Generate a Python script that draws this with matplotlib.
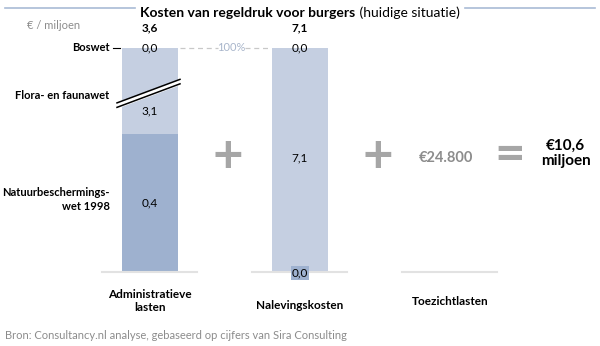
import matplotlib
matplotlib.use("Agg")
from matplotlib import pyplot as plt
import numpy as np

plt.rcParams['font.family'] = ['Lato', 'DejaVu Sans']

# data
categories = ['Administratieve\nlasten', 'Nalevingskosten', 'Toezichtlasten']
totals = ['3,6', '7,1', None]
# administrative burden per law (€ mln), top to bottom
admin_laws = ['Boswet', 'Flora- en faunawet', 'Natuurbeschermings-\nwet 1998']
admin_values = ['0,0', '3,1', '0,4']
# compliance costs segments, top to bottom
naleving_values = ['0,0', '7,1', '0,0']
toezicht_value = '€24.800'
total_value = '€10,6\nmiljoen'
# bar segments are drawn as 100% bars with an axis break, so the shares are the drawn proportions
admin_shown = [0.0, 0.384, 0.616]     # Boswet, Flora (compressed), Natuurbeschermingswet
naleving_shown = [0.0, 1.0, 0.0]

light = '#C5CFE1'
dark = '#9EB1CF'
grey_txt = '#8C8C8C'
fs = 8.5
fs_side = 8

fig = plt.figure(figsize=(6, 3.46), dpi=100)
ax = fig.add_axes([0, 0, 1, 1])
ax.set_xlim(-1, 3)
ax.set_ylim(-74 / 224, 272 / 224)
ax.axis('off')

bw = 0.37
# admin bar (stack from bottom)
seg_cols = [light, light, dark]
bottom = 0
for h, c in zip(admin_shown[::-1], seg_cols[::-1]):
    ax.bar(0, h, bw, bottom=bottom, color=c, edgecolor='none')
    bottom += h
bottom = 0
for h in naleving_shown[::-1]:
    ax.bar(1, h, bw, bottom=bottom, color=light, edgecolor='none')
    bottom += h

# baselines
for x in range(3):
    ax.plot([x - 0.32, x + 0.31], [0, 0], color='#E2E2E2', lw=1.5, zorder=1)

# break lines on admin bar
bx = np.array([-0.22, 0.2])
by = np.array([0.755, 0.86])
ax.fill_between(bx, by - 0.02, by, color='white', zorder=3)
ax.plot(bx, by, color='black', lw=1.1, zorder=4)
ax.plot(bx, by - 0.02, color='black', lw=1.1, zorder=4)

# dashed 100% line
ax.plot([0.2, 0.45], [1, 1], color='#C8C8C8', lw=0.9, ls=(0, (4, 3)))
ax.plot([0.63, 0.8], [1, 1], color='#C8C8C8', lw=0.9, ls=(0, (4, 3)))
ax.text(0.54, 1.0, '100%', ha='center', va='center', fontsize=8, color='#A9B6CB')

# totals
for x, t in enumerate(totals):
    if t:
        ax.text(x, 1.065, t, ha='center', va='bottom', fontsize=fs, fontweight='bold')

# admin labels
ax.text(0, 1.0, admin_values[0], ha='center', va='center', fontsize=fs)
ax.text(0, 0.72, admin_values[1], ha='center', va='center', fontsize=fs)
ax.text(0, admin_shown[2] / 2, admin_values[2], ha='center', va='center', fontsize=fs)
ax.text(-0.27, 1.0, admin_laws[0], ha='right', va='center', fontsize=fs_side, fontweight='bold')
ax.plot([-0.25, -0.2], [1.0, 1.0], color='black', lw=0.8)
ax.text(-0.27, 0.79, admin_laws[1], ha='right', va='center', fontsize=fs_side, fontweight='bold')
ax.text(-0.27, 0.325, admin_laws[2], ha='right', va='center', fontsize=fs_side,
        fontweight='bold', linespacing=1.3, multialignment='right')

# naleving labels
ax.text(1, 1.0, naleving_values[0], ha='center', va='center', fontsize=fs)
ax.text(1, 0.51, naleving_values[1], ha='center', va='center', fontsize=fs)
ax.text(1, -0.005, naleving_values[2], ha='center', va='center', fontsize=fs,
        bbox=dict(boxstyle='square,pad=0.1', fc=dark, ec='none'))

# category labels
for x, c in enumerate(categories):
    y = -0.13 if x != 1 else -0.15
    ax.text(x, y, c, ha='center', va='center', fontsize=fs, fontweight='bold',
            linespacing=1.3)

# plus / equals signs
for x in (0.52, 1.52):
    ax.text(x, 0.51, '+', ha='center', va='center', fontsize=38,
            fontweight='bold', color='#A6A6A6')
ax.text(1.97, 0.51, toezicht_value, ha='center', va='center', fontsize=10.5,
        fontweight='bold', color=grey_txt)
ax.text(2.4, 0.52, '=', ha='center', va='center', fontsize=38,
        fontweight='bold', color='#A6A6A6')
ax.text(2.77, 0.53, total_value, ha='center', va='center', fontsize=11,
        fontweight='bold', linespacing=1.1)

# title, bold part + normal part centred together
t1 = fig.text(0, 0.962, 'Kosten van regeldruk voor burgers', ha='left', va='center',
              fontsize=10, fontweight='bold')
t2 = fig.text(0, 0.962, ' (huidige situatie)', ha='left', va='center', fontsize=10)
r = fig.canvas.get_renderer()
w1 = t1.get_window_extent(r).width / fig.bbox.width
w2 = t2.get_window_extent(r).width / fig.bbox.width
x0 = 0.5 - (w1 + w2) / 2
t1.set_x(x0)
t2.set_x(x0 + w1)
fig.lines.append(plt.Line2D([0.008, 0.225], [0.977, 0.977], color='#A9BBD6', lw=1.2, transform=fig.transFigure))
fig.lines.append(plt.Line2D([0.775, 0.992], [0.977, 0.977], color='#A9BBD6', lw=1.2, transform=fig.transFigure))
fig.text(0.045, 0.925, '€ / miljoen', ha='left', va='center', fontsize=8, color=grey_txt)
fig.text(0.008, 0.03, 'Bron: Consultancy.nl analyse, gebaseerd op cijfers van Sira Consulting',
         ha='left', va='center', fontsize=8, color=grey_txt)

fig.savefig('out.png', dpi=100)
